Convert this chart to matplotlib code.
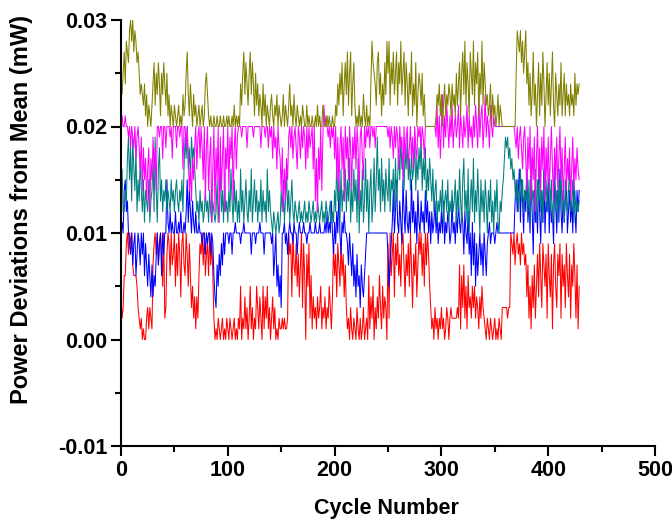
import numpy as np
import matplotlib
matplotlib.use("Agg")
import matplotlib.pyplot as plt
from matplotlib.ticker import MultipleLocator, FormatStrFormatter

# values in units of 0.001 mW, one per cycle starting at cycle 0
red = [4,2,3,6,6,9,10,8,10,9, 10,7,6,6,6,5,3,2,1,2, 0,1,0,0,2,3,1,3,2,1,
       7,9,10,8,10,7,9,10,8,5, 10,2,3,8,10,9,6,10,7,8, 10,5,9,6,10,8,4,9,10,7,
       6,10,8,5,9,6,3,5,2,4, 1,4,2,6,9,8,10,7,10,6, 8,9,6,10,7,9,6,2,0,1,
       0,2,1,0,1,2,0,1,0,2, 1,0,2,1,0,1,2,0,1,0, 2,1,5,0,2,1,4,1,3,0,
       2,5,1,3,0,2,1,5,3,1, 4,2,0,5,1,4,2,5,1,3, 0,2,4,1,3,0,1,0,2,1,
       1,2,1,2,1,1,2,10,8,9, 4,10,7,6,9,5,8,4,7,10, 3,9,6,0,8,5,9,2,6,1,
       4,2,3,1,4,2,3,5,1,3, 2,4,1,3,2,5,3,1,4,9, 6,8,4,9,7,5,9,6,8,4,
       7,3,1,2,0,3,1,0,2,1, 0,3,1,0,2,0,1,3,0,1, 2,0,6,1,4,2,5,0,3,1,
       4,2,6,3,1,5,2,4,3,0, 9,2,10,6,8,10,4,9,7,10, 6,8,5,9,10,7,4,8,6,9,
       5,10,7,3,8,6,9,4,7,10, 8,10,6,9,5,10,7,10,8,5, 3,1,2,0,3,1,2,0,2,1,
       3,1,2,0,1,3,2,0,2,3, 2,2,2,2,2,3,2,7,1,6, 3,7,2,5,1,6,3,4,2,5,
       3,5,2,4,3,1,4,2,5,3, 2,1,0,2,1,0,2,1,0,1, 2,0,1,0,2,1,0,3,3,3,
       3,3,2,3,3,10,9,8,10,7, 9,10,8,9,7,10,8,9,7,8, 4,7,2,5,1,6,3,7,2,5,
       8,4,9,6,3,9,7,5,8,2, 9,6,4,8,1,7,9,5,3,8, 6,9,2,8,5,7,3,9,6,4,
       8,2,7,5,9,6,2,7,1,5]

blue = [11,11,10,14,15,12,13,10,9,8, 10,7,9,10,6,8,10,9,7,10, 8,10,6,9,7,5,8,6,4,7,
        4,6,5,8,10,7,9,10,6,10, 8,10,10,15,11,10,12,10,11,10, 10,12,10,10,11,10,12,10,10,11,
        10,12,15,11,14,12,10,13,11,10, 12,10,10,11,10,10,9,10,10,8, 10,9,10,10,8,10,9,6,4,3,
        7,5,8,6,9,7,10,8,10,10, 10,9,10,10,8,10,10,11,10,10, 10,10,9,10,10,11,10,10,10,10,
        10,10,8,10,10,10,9,10,10,10, 11,10,10,10,8,10,10,10,10,10, 10,9,10,6,8,10,5,7,4,6,
        3,10,10,11,9,10,8,10,11,10, 10,9,11,10,10,8,10,11,10,10, 10,11,10,10,9,10,10,11,10,10,
        10,10,11,10,10,10,11,10,10,10, 10,11,10,12,10,11,10,13,10,8, 11,9,12,10,14,10,8,11,10,12,
        10,10,9,7,10,8,6,9,5,7, 4,8,5,6,3,7,5,4,6,8, 10,10,10,10,10,10,10,10,10,10,
        10,10,10,10,10,10,10,10,10,10, 8,5,7,9,11,14,10,12,15,11, 10,13,11,9,15,12,10,14,11,10,
        12,10,15,11,13,10,12,9,14,11, 10,13,11,12,10,14,11,13,10,12, 9,12,10,11,13,10,12,9,11,10,
        12,10,13,9,11,10,12,11,9,10, 13,10,11,9,12,10,13,11,10,12, 11,8,12,10,9,12,8,10,6,11,
        7,10,5,9,6,8,10,7,9,6, 10,8,6,9,10,11,9,10,10,10, 9,10,11,10,10,10,10,10,10,10,
        10,10,10,10,10,10,10,10,10,13, 15,12,14,16,11,15,13,10,14,12, 16,11,13,10,15,12,8,14,11,13,
        10,15,12,9,14,11,16,10,13,12, 15,10,14,11,12,9,15,13,10,14, 11,16,12,10,14,11,13,15,10,12,
        14,11,13,10,15,12,10,14,12,14]

teal = [15,16,12,12,14,13,17,19,15,18, 13,19,16,14,18,12,15,13,17,14, 12,15,11,14,13,12,15,11,13,14,
        17,12,19,14,11,16,18,13,15,12, 14,13,15,12,14,13,12,15,13,14, 12,14,15,13,12,14,13,15,12,16,
        19,17,20,16,18,15,19,17,18,16, 14,12,13,11,14,12,13,11,12,14, 12,13,11,14,12,11,13,12,11,12,
        15,11,13,16,12,14,11,15,12,13, 11,14,12,16,13,11,15,12,14,11, 13,11,16,12,14,11,13,15,12,11,
        14,12,16,11,13,15,12,14,11,13, 12,15,11,14,12,13,11,16,12,14, 12,11,10,12,11,10,11,12,10,11,
        14,12,15,11,13,16,12,14,11,13, 15,12,11,13,12,11,12,13,11,12, 11,12,13,11,12,11,13,12,11,12,
        13,11,12,11,13,12,11,12,13,11, 12,11,13,12,11,12,13,11,12,11, 14,12,17,13,15,11,16,12,14,13,
        16,12,15,13,17,11,14,12,16,13, 15,11,17,10,14,12,16,11,13,17, 12,15,10,14,16,11,13,17,12,15,
        19,14,16,12,17,13,15,12,16,14, 13,17,12,15,14,16,12,17,13,15, 18,15,19,16,17,14,18,16,19,15,
        17,14,18,15,16,19,14,17,15,18, 16,19,14,17,15,18,13,16,14,17, 15,13,16,12,14,15,11,13,12,14,
        12,15,11,13,14,12,15,11,13,12, 14,12,13,15,11,14,12,16,13,11, 15,17,12,14,11,16,10,13,15,12,
        17,11,14,12,16,13,10,15,12,14, 11,15,13,10,14,12,15,11,13,10, 14,12,15,11,10,13,12,14,15,17,
        19,18,19,17,18,16,17,15,16,14, 13,15,12,14,16,13,15,12,14,13, 16,12,15,11,17,13,14,12,16,11,
        15,13,17,12,14,11,16,13,15,12, 14,16,12,15,11,13,17,12,14,11, 15,13,16,12,14,11,15,13,12,14,
        16,12,13,15,11,14,12,13,12,13]

magenta = [21,21,20,20,21,20,20,19,20,18, 20,19,18,20,17,19,20,18,16,19, 14,18,15,17,13,16,18,12,17,15,
           19,16,18,14,20,20,19,20,20,17, 20,20,18,20,20,20,19,20,17,20, 20,20,18,20,20,19,20,20,16,20,
           20,18,20,17,14,16,13,17,15,18, 20,16,19,20,17,20,18,15,20,13, 18,20,14,17,19,11,16,20,12,18,
           15,20,11,19,14,17,20,12,18,16, 20,14,19,17,20,13,18,20,16,19, 20,20,20,19,20,20,20,20,18,20,
           20,20,20,20,19,20,20,20,20,20, 20,18,20,20,20,19,20,20,18,20, 19,20,17,20,18,19,16,20,18,17,
           14,18,12,16,13,17,15,19,20,18, 20,17,19,20,18,16,20,19,17,20, 18,20,19,16,20,17,20,18,19,20,
           16,20,13,17,12,18,15,20,14,19, 22,20,21,20,19,20,18,20,19,20, 17,20,15,19,14,18,20,16,19,13,
           20,17,19,15,20,18,14,19,17,20, 16,20,18,13,19,20,17,15,20,18, 20,19,20,18,20,20,19,20,18,20,
           20,20,20,20,20,20,20,20,20,20, 19,20,18,20,19,17,20,18,20,19, 16,20,18,19,15,20,17,19,20,16,
           18,20,17,19,16,20,18,17,20,19, 20,18,20,19,17,20,20,20,20,20, 20,20,20,20,20,19,22,18,21,17,
           20,23,18,21,19,22,20,18,21,19, 22,18,20,21,19,20,22,18,21,20, 18,21,19,20,22,18,21,19,20,18,
           21,19,22,20,18,23,19,21,22,18, 20,23,19,21,20,18,22,20,19,21, 20,20,20,20,20,20,20,20,20,20,
           20,20,20,20,20,20,20,20,20,19, 18,20,17,19,20,18,16,19,20,17, 14,19,16,20,13,18,15,19,12,17,
           20,15,18,14,19,16,20,13,18,15, 19,14,17,20,16,13,18,15,19,14, 17,20,15,18,13,16,19,14,17,15,
           18,13,16,19,14,17,15,18,16,15]

olive = [24,23,25,27,24,28,27,26,29,30, 28,30,27,29,28,26,27,25,23,24, 23,22,24,21,23,20,22,21,20,22,
         24,26,22,25,23,26,24,21,25,23, 26,24,22,25,21,23,20,22,21,20, 22,21,20,21,22,20,21,20,23,21,
         22,25,27,23,21,24,22,20,23,21, 22,20,21,22,20,21,22,20,21,24, 25,23,21,20,21,20,20,21,20,20,
         21,20,20,21,20,20,21,20,20,21, 20,21,20,20,21,20,22,20,21,20, 21,20,24,22,25,27,23,26,24,22,
         25,27,23,26,24,21,25,22,24,21, 23,22,20,24,21,23,20,22,21,20, 22,23,21,20,22,21,23,20,22,21,
         20,21,23,20,22,21,20,22,24,21, 22,20,23,21,20,22,21,20,21,20, 22,21,20,20,22,20,21,20,20,21,
         20,20,21,20,22,20,21,20,20,22, 21,20,20,21,20,21,20,20,21,20, 20,22,21,24,22,25,23,26,21,24,
         26,23,27,22,25,27,21,24,26,22, 20,21,20,22,20,21,20,23,21,20, 22,20,21,20,24,28,26,25,24,22,
         26,27,23,25,21,24,22,26,23,28, 25,28,22,26,24,27,23,25,27,22, 26,24,28,23,25,27,22,26,24,21,
         25,23,27,21,24,22,26,20,23,25, 24,22,25,21,23,20,20,20,20,20, 20,20,20,20,20,21,23,22,24,21,
         23,20,22,24,21,23,22,24,23,21, 24,22,23,21,25,22,24,26,21,25, 27,23,28,22,26,24,21,27,25,23,
         28,22,26,24,27,21,25,23,28,22, 26,24,22,23,21,22,24,20,23,21, 22,20,21,23,20,22,21,20,20,20,
         20,20,20,20,20,20,20,20,20,20, 25,29,28,27,29,26,28,25,27,29, 24,26,22,25,21,23,27,22,24,20,
         23,26,21,25,22,27,24,20,23,26, 22,25,21,24,27,22,20,25,23,21, 24,22,26,21,23,25,21,24,22,23,
         21,24,22,23,21,25,22,24,23,24]

series = [("red", red, "#FF0000"), ("blue", blue, "#0000FF"), ("teal", teal, "#008080"),
          ("magenta", magenta, "#FF00FF"), ("olive", olive, "#808000")]

x_ticks = [0, 100, 200, 300, 400, 500]
y_ticks = [-0.01, 0.00, 0.01, 0.02, 0.03]

plt.rcParams['font.family'] = ['Liberation Sans', 'DejaVu Sans']
plt.rcParams['font.weight'] = 'bold'

fig = plt.figure(figsize=(6.72, 5.23), dpi=100)
ax = fig.add_axes([121/672, 1 - 446/523, (655 - 121)/672, (446 - 20)/523])

for name, vals, col in series:
    v = np.asarray(vals, dtype=float) * 0.001
    ax.plot(np.arange(len(v)), v, color=col, lw=0.75)

ax.set_xlim(0, 500)
ax.set_ylim(-0.01, 0.03)
ax.set_xticks(x_ticks)
ax.set_yticks(y_ticks)
ax.xaxis.set_minor_locator(MultipleLocator(50))
ax.yaxis.set_minor_locator(MultipleLocator(0.005))
ax.yaxis.set_major_formatter(FormatStrFormatter('%.2f'))

for s in ['top', 'right']:
    ax.spines[s].set_visible(False)
for s in ['left', 'bottom']:
    ax.spines[s].set_linewidth(1.5)

ax.tick_params(which='major', direction='out', length=7, width=1.5, labelsize=15.5, pad=3)
ax.tick_params(which='minor', direction='out', length=4, width=1.5)
for lab in ax.get_xticklabels() + ax.get_yticklabels():
    lab.set_fontweight('bold')

ax.set_xlabel('Cycle Number', fontsize=15.5, fontweight='bold')
ax.set_ylabel('Power Deviations from Mean (mW)', fontsize=17, fontweight='bold')
ax.xaxis.set_label_coords(0.498, -0.122)
ax.yaxis.set_label_coords(-0.165, 0.556)

fig.savefig('out.png', dpi=100)
